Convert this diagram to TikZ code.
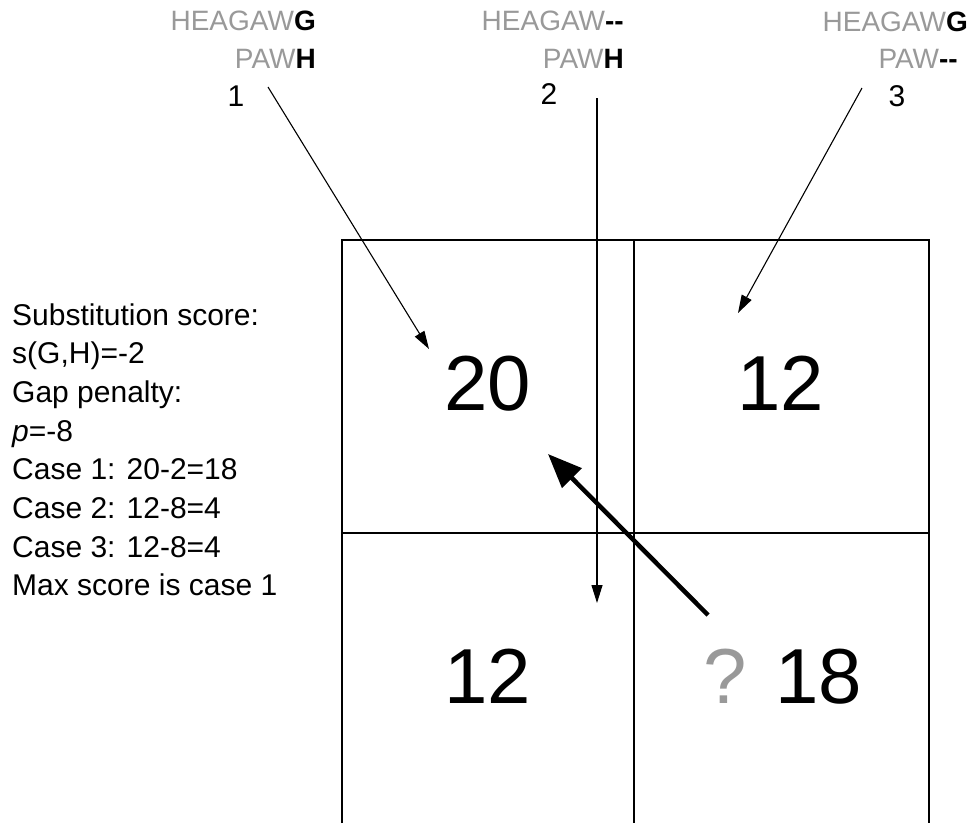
\documentclass[tikz,border=0pt]{standalone}
\usepackage{fontspec}
\setmainfont{Liberation Sans}
\usetikzlibrary{arrows.meta}
\definecolor{seqgray}{gray}{0.6}
\tikzset{
  grid/.style={line width=1.3pt, black},
  thinarrow/.style={line width=1.1pt, -{Triangle[length=18pt,width=11pt]}},
  bigarrow/.style={line width=4.5pt, -{Triangle[length=34pt,width=27pt]}},
  seq/.style={inner sep=0pt, anchor=base east, font=\fontsize{28}{30}\selectfont, text=seqgray},
  casenum/.style={inner sep=0pt, anchor=base, font=\fontsize{30}{32}\selectfont},
  info/.style={inner sep=0pt, anchor=base west, font=\fontsize{30}{32}\selectfont},
  score/.style={inner sep=0pt, anchor=base, font=\fontsize{78}{80}\selectfont},
}
\begin{document}
\begin{tikzpicture}[x=1pt,y=-1pt]
\useasboundingbox (0,0) rectangle (969,823);
% grid
\draw[grid] (342,823) -- (342,240) -- (929,240) -- (929,823);
\draw[grid] (634,240) -- (634,823);
\draw[grid] (342,533) -- (929,533);
% sequences
\node[seq] (a1) at (316,30) {HEAGAW\textcolor{black}{\bfseries G}};
\node[seq] (b1) at (316,68) {PAW\textcolor{black}{\bfseries H}};
\node[seq] (a2) at (624,30) {HEAGAW\textcolor{black}{\bfseries -{}-}};
\node[seq] (b2) at (624,68) {PAW\textcolor{black}{\bfseries H}};
\node[seq] (a3) at (968,31) {HEAGAW\textcolor{black}{\bfseries G}};
\node[seq] (b3) at (958,68) {PAW\textcolor{black}{\bfseries -{}-}};
\node[casenum] (n1) at (236,106) {1};
\node[casenum] (n2) at (549,104) {2};
\node[casenum] (n3) at (897,106) {3};
% left info text
\node[info] (l1) at (12,325) {Substitution score:};
\node[info] (l2) at (12,363.7) {s(G,H)=-2};
\node[info] (l3) at (12,402.4) {Gap penalty:};
\node[info] (l4) at (12,441.1) {\textit{p}=-8};
\node[info] (l5) at (12,479.8) {Case 1: 20-2=18};
\node[info] (l6) at (12,518.5) {Case 2: 12-8=4};
\node[info] (l7) at (12,557.2) {Case 3: 12-8=4};
\node[info] (l8) at (12,595.9) {Max score is case 1};
% scores
\node[score] (c11) at (488,410) {20};
\node[score] (c12) at (781,410) {12};
\node[score] (c21) at (488,703) {12};
\node[score, anchor=base west] (c22) at (703,703) {\textcolor{seqgray}{?} 18};
% arrows
\coordinate (s1) at (268,87);
\coordinate (t1) at (429,349);
\coordinate (s2) at (597,98);
\coordinate (t2) at (597,603);
\coordinate (s3) at (862,88);
\coordinate (t3) at (738,313);
\coordinate (s4) at (708,615);
\coordinate (t4) at (548,454);
\draw[thinarrow] (s1) -- (t1);
\draw[thinarrow] (s2) -- (t2);
\draw[thinarrow] (s3) -- (t3);
\draw[bigarrow] (s4) -- (t4);
\end{tikzpicture}
\end{document}
